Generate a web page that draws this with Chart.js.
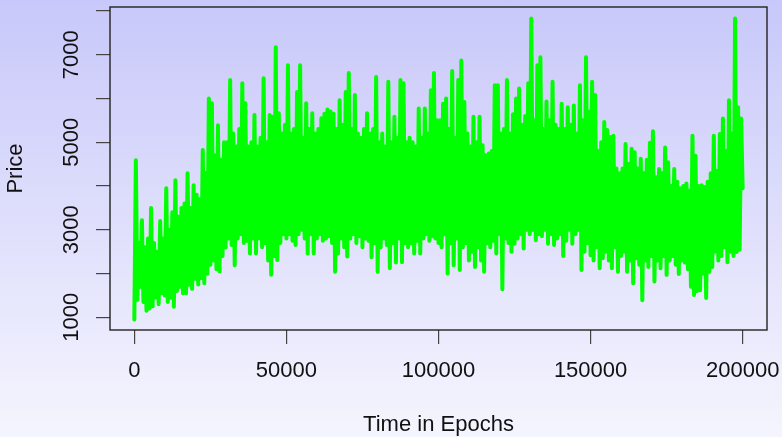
<!DOCTYPE html>
<html>
<head>
<meta charset="utf-8">
<script src="https://cdn.jsdelivr.net/npm/chart.js@4.4.1/dist/chart.umd.min.js"></script>
<style>
  html, body { margin: 0; padding: 0; }
  body { width: 782px; height: 437px; background: linear-gradient(to bottom, #c8c8fa 0%, #f5f5fe 100%); overflow: hidden; }
  #wrap { position: relative; width: 782px; height: 437px; }
</style>
</head>
<body>
<div id="wrap"><canvas id="c" width="782" height="437"></canvas></div>
<script>
// Sampling step of the series (epochs between consecutive readings)
const EPOCH_STEP = 500;

// Price readings, one every 500 epochs (0 .. 200000)
const prices = [
  950,4590, 1400,2700, 1700,3220, 1350,2600, 1150,2800, 1200,3500, 1250,2700, 1450,2500, 1300,3200, 1550,2800,
  1500,3950, 1350,3000, 1450,3400, 1240,4130, 1600,3300, 1700,3500, 1550,3600, 1550,4290, 1750,3500, 1650,4020,
  1880,3800, 1750,3700, 1900,4820, 1780,4300, 2000,6000, 2200,5890, 2300,4700, 2100,5390, 2050,4600, 2400,5000,
  2600,5000, 2800,6420, 2650,5200, 2190,4900, 2800,5300, 2900,6350, 2700,5890, 2750,4900, 2460,5000, 2800,5620,
  2460,4900, 2800,5100, 2600,6460, 2700,5000, 2300,5620, 1970,5580, 2400,7170, 2310,5660, 2700,5200, 2900,5400,
  2800,6760, 2900,5200, 2750,5300, 2650,6150, 2900,6760, 3000,5100, 2800,5890, 2460,5300, 2900,5660, 2460,5200,
  2800,5300, 2900,5550, 2750,5650, 2800,5750, 2850,5700, 2700,5650, 2040,5300, 2460,5960, 2800,5400, 2600,6150,
  2390,6580, 2800,5300, 2900,6080, 2700,5200, 2850,5100, 2600,5300, 2800,5660, 2750,5200, 2370,5300, 2700,6490,
  2040,5000, 2600,5200, 2800,4900, 2650,6380, 2120,5000, 2700,5580, 2250,5100, 2800,6420, 2260,6350, 2700,5000,
  2600,5100, 2700,5000, 2460,4900, 2750,5770, 2460,5100, 2800,5770, 2900,5200, 2750,6190, 2850,6580, 2800,5500,
  2700,5500, 2600,5880, 2900,6000, 2000,5300, 2700,6630, 2190,5100, 2800,6420, 2080,6870, 2600,5920, 2700,5200,
  2300,4900, 2500,5580, 2150,5000, 2600,5580, 2300,4930, 2040,4700, 2700,4740, 2600,4800, 2750,6300, 2460,6300,
  2900,5200, 1640,5300, 2800,6420, 2700,5200, 2500,5640, 2680,6000, 2800,6230, 2900,5400, 2570,5600, 3000,6350,
  2900,7830, 3000,5500, 2760,6760, 2900,6940, 2850,5300, 3000,5930, 2680,5500, 2900,6380, 2650,5400, 2800,5300,
  2900,5880, 2400,5300, 2750,5800, 3000,5400, 2680,5840, 2900,5200, 3000,6300, 2080,5500, 2500,6940, 2700,5700,
  2420,6380, 2300,6080, 2600,4800, 2120,5000, 2350,5460, 2500,5280, 2300,5120, 2120,5150, 2600,4400, 2040,4290,
  2400,4400, 2500,4960, 2040,4500, 2300,4850, 1780,4770, 2350,4400, 2200,4620, 1390,4300, 2300,4600, 2150,4990,
  2400,5250, 1820,4200, 2300,4390, 2120,4300, 2400,4880, 1970,4540, 2300,4000, 2400,4390, 2200,4100, 1990,3950,
  2300,4000, 2250,4060, 2100,3900, 1700,5150, 1510,4690, 1600,4000, 1620,4020, 2000,3980, 1440,4100, 2040,4290,
  2150,5150, 2500,4350, 2300,5190, 2400,5540, 2600,4800, 2260,5960, 2500,5200, 2400,7830, 2490,5800, 2550,5540,
  3950
];

// Axis ticks
const xTicks = [0, 50000, 100000, 150000, 200000];
const yTicks = [1000, 2000, 3000, 4000, 5000, 6000, 7000, 8000];
const yTickLabels = [1000, 3000, 5000, 7000];

// Axis ranges (R style 4% extension)
const xRange = [-8000, 208000];
const yRange = [710, 8090];

const FONT = '"Liberation Sans", Arial, Helvetica, sans-serif';
const points = prices.map((p, i) => ({ x: i * EPOCH_STEP, y: p }));

const boxAndLabels = {
  id: 'boxAndLabels',
  afterDraw(chart) {
    const { ctx, chartArea: a, scales } = chart;
    ctx.save();
    ctx.strokeStyle = '#222';
    ctx.lineWidth = 1.4;
    ctx.strokeRect(a.left, a.top, a.right - a.left, a.bottom - a.top);
    ctx.fillStyle = '#111';
    ctx.font = '22px ' + FONT;
    ctx.textAlign = 'center';
    ctx.textBaseline = 'alphabetic';
    yTickLabels.forEach(v => {
      const y = scales.y.getPixelForValue(v);
      ctx.save();
      ctx.translate(78.3, y);
      ctx.rotate(-Math.PI / 2);
      ctx.fillText(String(v), 0, 0);
      ctx.restore();
    });
    ctx.restore();
  }
};

new Chart(document.getElementById('c'), {
  type: 'line',
  data: {
    datasets: [{
      data: points,
      borderColor: '#00ff00',
      borderWidth: 4,
      borderJoinStyle: 'round',
      borderCapStyle: 'round',
      pointRadius: 0,
      tension: 0,
      fill: false
    }]
  },
  options: {
    responsive: false,
    animation: false,
    events: [],
    layout: { padding: { top: 7, right: 15, left: 0, bottom: 0 } },
    plugins: { legend: { display: false }, tooltip: { enabled: false } },
    scales: {
      x: {
        type: 'linear',
        min: xRange[0],
        max: xRange[1],
        afterBuildTicks: s => { s.ticks = xTicks.map(v => ({ value: v })); },
        afterFit: s => { s.height = 107; s.paddingLeft = 0; s.paddingRight = 0; },
        border: { display: false },
        grid: { display: true, drawOnChartArea: false, drawTicks: true, tickLength: 14, color: '#444', lineWidth: 1.2 },
        ticks: { color: '#111', padding: 16, maxRotation: 0, autoSkip: false,
                 font: { family: FONT, size: 22, lineHeight: 1 },
                 callback: v => String(v) },
        title: { display: true, text: 'Time in Epochs', color: '#111',
                 font: { family: FONT, size: 22, lineHeight: 1 }, padding: { top: 0, bottom: 1 } }
      },
      y: {
        type: 'linear',
        min: yRange[0],
        max: yRange[1],
        afterBuildTicks: s => { s.ticks = yTicks.map(v => ({ value: v })); },
        afterFit: s => { s.width = 110; s.paddingTop = 0; s.paddingBottom = 0; },
        border: { display: false },
        grid: { display: true, drawOnChartArea: false, drawTicks: true, tickLength: 14, color: '#444', lineWidth: 1.2 },
        ticks: { display: false },
        title: { display: true, text: 'Price', color: '#111',
                 font: { family: FONT, size: 22, lineHeight: 1 }, padding: { top: 5, bottom: 0 } }
      }
    }
  },
  plugins: [boxAndLabels]
});
</script>
</body>
</html>
